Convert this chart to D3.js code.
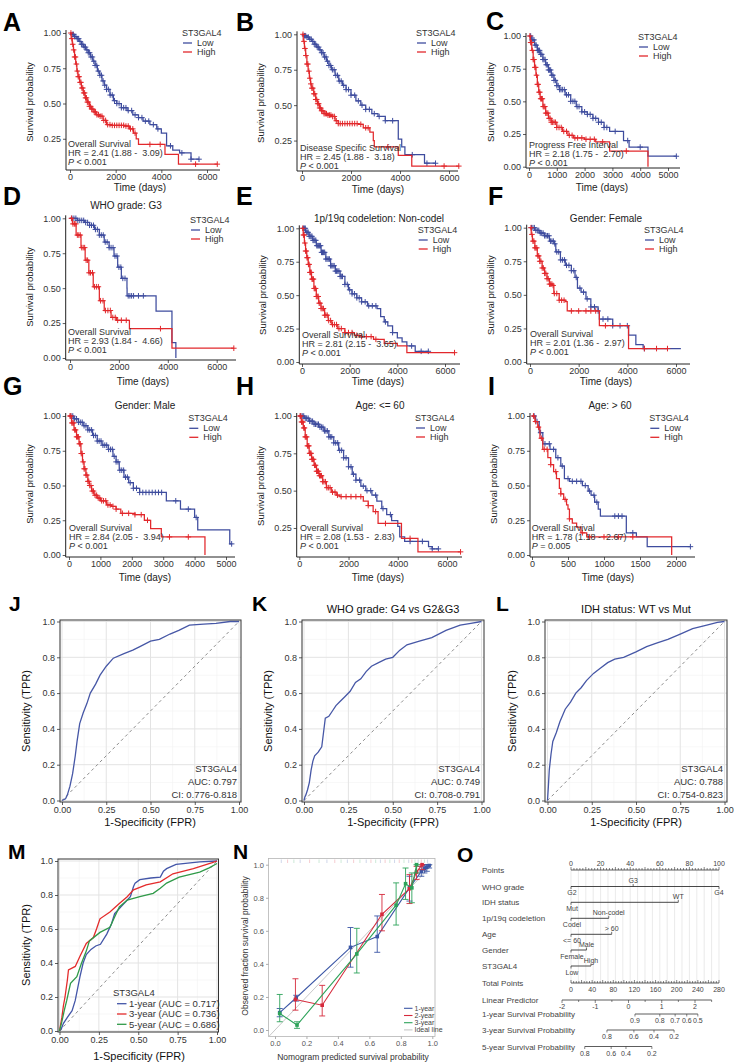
<!DOCTYPE html>
<html><head><meta charset="utf-8">
<script src="https://cdn.jsdelivr.net/npm/d3@7"></script>
<style>body{margin:0;background:#fff}svg{display:block}text{font-family:"Liberation Sans",Arial,sans-serif;white-space:pre}</style>
</head><body><svg id="c" width="738" height="1064"></svg>
<script>
// ---------------- DATA ----------------
const kmA_low=[[0,1],[100,0.99],[200,0.975],[300,0.96],[400,0.94],[500,0.92],[600,0.9],[700,0.88],[800,0.86],[900,0.83],[1000,0.8],[1100,0.77],[1200,0.73],[1300,0.7],[1400,0.66],[1500,0.63],[1600,0.6],[1750,0.56],[1900,0.52],[2050,0.5],[2250,0.47],[2500,0.45],[2750,0.42],[3000,0.4],[3200,0.375],[3500,0.35],[3800,0.32],[4000,0.29],[4230,0.2],[4500,0.17],[4800,0.15],[5300,0.105],[5650,0.105]];
const kmA_high=[[0,1],[50,0.96],[100,0.92],[150,0.88],[200,0.83],[250,0.78],[300,0.73],[350,0.69],[420,0.65],[500,0.61],[580,0.575],[660,0.54],[750,0.51],[850,0.48],[950,0.46],[1050,0.44],[1150,0.42],[1300,0.41],[1450,0.38],[1600,0.35],[1800,0.345],[2400,0.34],[2600,0.32],[2780,0.29],[2900,0.25],[3000,0.21],[4160,0.14],[4750,0.07],[6450,0.07]];
const kmA_lowC=[100,150,200,260,320,380,440,500,560,620,680,740,800,860,920,980,1040,1100,1170,1240,1310,1380,1450,1520,1600,1680,1760,1850,1950,2050,2150,2250,2350,2450,2550,2700,2850,3000,3150,3300,3450,3650,3850,4400,4900,5300,5650];
const kmA_highC=[40,80,120,160,200,240,280,320,360,400,440,480,520,560,600,640,680,720,760,800,850,900,950,1000,1060,1120,1180,1250,1320,1400,1480,1560,1650,1750,1850,1950,2050,2150,2250,2350,2450,2550,2650,2750,2850,3500,3950,5500,6450];
const kmB_low=[[0,1],[100,0.99],[200,0.98],[300,0.965],[400,0.95],[500,0.93],[600,0.91],[700,0.89],[800,0.87],[900,0.84],[1000,0.81],[1100,0.78],[1200,0.75],[1350,0.71],[1500,0.67],[1650,0.64],[1800,0.61],[2000,0.57],[2200,0.53],[2400,0.5],[2600,0.47],[2850,0.44],[3100,0.42],[3400,0.39],[3930,0.26],[4070,0.205],[4200,0.15],[5000,0.09],[5450,0.09]];
const kmB_high=[[0,1],[50,0.95],[100,0.9],[150,0.85],[200,0.79],[250,0.74],[300,0.69],[350,0.65],[400,0.62],[480,0.58],[560,0.54],[640,0.51],[720,0.48],[800,0.46],[900,0.44],[1050,0.43],[1200,0.42],[1350,0.39],[1480,0.37],[2300,0.365],[2500,0.34],[2770,0.31],[2910,0.25],[2950,0.205],[3930,0.146],[4480,0.07],[6400,0.07]];
const kmB_lowC=[100,150,200,260,320,380,440,500,560,620,680,740,800,860,920,980,1040,1100,1170,1240,1310,1380,1450,1520,1600,1700,1800,1900,2000,2150,2300,2450,2600,2750,2950,3150,3400,3700,4500,5100,5450];
const kmB_highC=[40,80,120,160,200,240,280,320,360,400,440,480,520,560,600,640,680,720,760,800,850,900,950,1000,1060,1120,1180,1250,1320,1400,1480,1560,1650,1750,1850,1950,2050,2150,2250,2400,2600,2700,3500,5800,6400];
const kmC_low=[[0,1],[100,0.97],[200,0.93],[300,0.89],[400,0.86],[500,0.82],[600,0.78],[700,0.74],[800,0.7],[900,0.66],[1000,0.62],[1100,0.59],[1300,0.55],[1500,0.5],[1700,0.46],[1900,0.42],[2100,0.4],[2300,0.37],[2500,0.34],[2700,0.3],[2900,0.27],[3200,0.27],[3400,0.2],[3600,0.15],[4280,0.08],[5300,0.08]];
const kmC_high=[[0,1],[50,0.95],[100,0.89],[150,0.82],[200,0.76],[250,0.7],[300,0.63],[350,0.57],[400,0.52],[500,0.46],[600,0.41],[700,0.37],[800,0.34],[1000,0.3],[1200,0.27],[1400,0.24],[1600,0.22],[2000,0.21],[2400,0.19],[2900,0.12],[4280,0]];
const kmC_lowC=[60,100,140,180,220,260,300,340,380,420,460,500,540,580,620,660,700,740,780,820,860,900,950,1000,1050,1100,1150,1200,1270,1350,1420,1500,1580,1650,1730,1800,1900,2000,2100,2200,2300,2400,2500,2600,2700,2800,3100,3550,4000,5300];
const kmC_highC=[30,60,90,120,150,180,210,240,270,300,330,360,390,420,450,480,510,540,570,600,640,680,720,760,800,850,900,950,1000,1080,1160,1250,1350,1450,1550,1650,1750,1900,2050,2200,2350,2650,3500];
const kmD_low=[[0,1],[300,0.985],[600,0.97],[800,0.95],[1000,0.92],[1200,0.88],[1400,0.83],[1600,0.79],[1800,0.73],[1950,0.65],[2100,0.57],[2330,0.5],[2335,0.445],[3520,0.335],[4170,0.11],[4330,0]];
const kmD_high=[[0,1],[100,0.96],[250,0.88],[450,0.79],[620,0.7],[770,0.61],[950,0.51],[1200,0.41],[1400,0.34],[1680,0.29],[1900,0.27],[2430,0.21],[4170,0.07],[6700,0.07]];
const kmD_lowC=[80,160,240,320,400,480,560,640,720,800,880,960,1040,1120,1200,1280,1360,1440,1520,1600,1680,1760,1840,1920,2000,2080,2160,2250,2380,2450,2520,2600,2800,3000];
const kmD_highC=[60,120,180,240,300,360,420,480,540,600,660,720,780,840,920,1000,1080,1160,1250,1350,1450,1550,1650,1750,1850,1950,2100,2300,3700,6700];
const kmE_low=[[0,1],[150,0.97],[300,0.94],[450,0.91],[600,0.87],[800,0.82],[1000,0.77],[1200,0.72],[1400,0.68],[1600,0.64],[1800,0.58],[1950,0.54],[2100,0.51],[2300,0.48],[2500,0.45],[2750,0.42],[3150,0.4],[3300,0.34],[3450,0.3],[3600,0.27],[3800,0.22],[4000,0.18],[4200,0.15],[4400,0.12],[4750,0.08],[5300,0.08]];
const kmE_high=[[0,1],[50,0.95],[100,0.89],[150,0.83],[200,0.78],[260,0.73],[330,0.67],[400,0.62],[500,0.55],[600,0.49],[700,0.44],[800,0.4],[950,0.35],[1100,0.31],[1250,0.28],[1500,0.25],[1800,0.22],[2200,0.2],[2500,0.19],[3000,0.17],[3450,0.14],[4000,0.12],[4400,0.07],[6400,0.07]];
const kmE_lowC=[60,100,140,180,220,260,300,340,380,420,460,500,540,580,620,660,700,740,780,820,860,900,950,1000,1050,1100,1150,1200,1250,1300,1350,1400,1450,1500,1550,1600,1650,1700,1800,1900,2000,2100,2200,2300,2400,2500,2650,2800,2950,3100,3500,3800,4600,5000,5300];
const kmE_highC=[30,60,90,120,150,180,210,240,270,300,330,360,390,420,450,480,510,540,570,600,640,680,720,760,800,850,900,950,1000,1060,1120,1200,1280,1360,1450,1550,1650,1800,1950,2100,2300,2500,2700,2900,3100,6400];
const kmF_low=[[0,1],[200,0.98],[400,0.96],[600,0.94],[800,0.9],[1000,0.88],[1060,0.82],[1250,0.76],[1450,0.72],[1700,0.68],[1850,0.63],[1950,0.55],[2100,0.52],[2300,0.47],[2500,0.41],[2800,0.38],[2850,0.32],[3400,0.27],[4000,0.27],[4050,0.2],[4350,0.13],[4650,0.1],[6200,0.1]];
const kmF_high=[[0,1],[50,0.95],[100,0.9],[200,0.85],[300,0.79],[400,0.75],[500,0.7],[600,0.66],[700,0.62],[800,0.58],[920,0.57],[980,0.51],[1200,0.46],[1450,0.45],[1530,0.38],[2780,0.38],[2850,0.27],[4000,0.27],[4050,0.1],[5650,0.1]];
const kmF_lowC=[60,120,180,240,300,360,420,480,540,600,660,720,780,840,900,960,1020,1100,1180,1260,1340,1420,1500,1600,1700,1800,1900,2050,2200,2350,2500,2650,2800,3000,3200,3400,3700,4000,4700];
const kmF_highC=[40,80,120,160,200,240,280,320,360,400,450,500,550,600,650,700,750,800,850,900,950,1000,1100,1200,1300,1400,1700,2000,2300,2500,2700,3100,4700,5200,5650];
const kmG_low=[[0,1],[150,0.98],[300,0.955],[450,0.93],[600,0.9],[750,0.86],[900,0.82],[1050,0.79],[1250,0.76],[1400,0.71],[1500,0.67],[1600,0.61],[1750,0.56],[1900,0.52],[2050,0.48],[2250,0.45],[3100,0.39],[3550,0.33],[4000,0.27],[4100,0.18],[5120,0.08],[5200,0.08]];
const kmG_high=[[0,1],[80,0.95],[160,0.9],[240,0.85],[320,0.8],[380,0.73],[430,0.67],[480,0.62],[540,0.575],[600,0.53],[650,0.5],[720,0.46],[800,0.43],[900,0.41],[1000,0.39],[1200,0.36],[1350,0.35],[1500,0.33],[1650,0.3],[2100,0.29],[2400,0.25],[2600,0.19],[2940,0.13],[4330,0]];
const kmG_lowC=[60,120,180,240,300,360,420,480,540,600,660,720,780,840,900,960,1020,1080,1140,1200,1260,1320,1380,1440,1500,1560,1620,1680,1740,1800,1860,1950,2050,2150,2250,2350,2450,2550,2650,2750,2850,2950,3400,3800,4050,5180];
const kmG_highC=[30,60,90,120,150,180,210,240,270,300,330,360,390,420,450,480,510,540,570,600,630,660,700,740,780,830,880,930,980,1040,1100,1170,1240,1310,1400,1500,1700,1900,2100,2300,2500,3200,3800];
const kmH_low=[[0,1],[200,0.985],[400,0.965],[600,0.945],[800,0.925],[1000,0.9],[1200,0.86],[1400,0.82],[1600,0.77],[1800,0.72],[2000,0.66],[2150,0.61],[2300,0.57],[2500,0.53],[2700,0.5],[2950,0.47],[3150,0.43],[3350,0.38],[3550,0.34],[3750,0.3],[4000,0.26],[4080,0.19],[4280,0.16],[5250,0.125],[5400,0.11],[5650,0.11]];
const kmH_high=[[0,1],[80,0.96],[160,0.92],[240,0.86],[320,0.8],[400,0.75],[500,0.71],[600,0.67],[700,0.63],[800,0.6],[950,0.56],[1100,0.52],[1300,0.49],[1500,0.47],[1650,0.46],[2600,0.43],[2800,0.4],[3000,0.36],[3200,0.28],[4150,0.18],[4820,0.09],[6550,0.09]];
const kmH_lowC=[60,120,180,240,300,360,420,480,540,600,660,720,780,840,900,960,1020,1080,1140,1200,1260,1320,1400,1480,1560,1640,1720,1800,1900,2000,2100,2200,2300,2450,2600,2750,2900,3100,3400,3700,4500,5000,5400,5650];
const kmH_highC=[30,60,90,120,150,180,210,240,270,300,330,360,390,420,450,480,510,540,580,620,660,700,740,780,820,860,900,950,1000,1060,1120,1180,1250,1350,1450,1550,1700,1900,2100,2300,2500,2800,3100,3500,4500,6550];
const kmI_low=[[0,1],[50,0.96],[100,0.88],[150,0.8],[250,0.76],[330,0.7],[400,0.64],[450,0.55],[520,0.53],[700,0.5],[780,0.46],[820,0.43],[870,0.38],[920,0.33],[950,0.28],[1310,0.16],[1450,0.13],[1600,0.06],[2200,0.06]];
const kmI_high=[[0,1],[40,0.96],[80,0.92],[110,0.84],[150,0.76],[220,0.7],[260,0.65],[300,0.6],[340,0.55],[380,0.48],[400,0.44],[440,0.4],[480,0.36],[500,0.33],[520,0.26],[560,0.23],[620,0.2],[680,0.16],[760,0.13],[1940,0]];
const kmI_lowC=[30,70,120,180,240,300,360,420,500,560,620,680,740,800,860,900,1150,1200,1250,1400,2200];
const kmI_highC=[20,50,90,130,170,210,260,330,400,460,520,700,800,1000,1200,1400];

const kmLetters=['A','B','C','D','E','F','G','H','I'];
const kmTitles=[null,null,null,'WHO grade: G3','1p/19q codeletion: Non-codel','Gender: Female','Gender: Male','Age: <= 60','Age: > 60'];
const kmTests=['Overall Survival','Disease Specific Survival','Progress Free Interval','Overall Survival','Overall Survival','Overall Survival','Overall Survival','Overall Survival','Overall Survival'];
const kmHR=['HR = 2.41 (1.88 -  3.09)','HR = 2.45 (1.88 -  3.18)','HR = 2.18 (1.75 -  2.70)','HR = 2.93 (1.84 -  4.66)','HR = 2.81 (2.15 -  3.65)','HR = 2.01 (1.36 -  2.97)','HR = 2.84 (2.05 -  3.94)','HR = 2.08 (1.53 -  2.83)','HR = 1.78 (1.18 -  2.67)'];
const kmP=['< 0.001','< 0.001','< 0.001','< 0.001','< 0.001','< 0.001','< 0.001','< 0.001','= 0.005'];
const kmXMax=[6000,6000,5000,6000,6000,6000,5000,6000,2000];
const kmXTicks=[[0,2000,4000,6000],[0,2000,4000,6000],[0,1000,2000,3000,4000,5000],[0,2000,4000,6000],[0,2000,4000,6000],[0,2000,4000,6000],[0,1000,2000,3000,4000,5000],[0,2000,4000,6000],[0,500,1000,1500,2000]];
const kmYTicksFull=[0,0.25,0.5,0.75,1];
const kmYTicksCut=[0.25,0.5,0.75,1];
const kmGroups=['Low','High'];
const kmLegendTitle='ST3GAL4';

const rocJ=[[0,0],[0.02,0.01],[0.03,0.03],[0.045,0.08],[0.06,0.15],[0.075,0.25],[0.085,0.33],[0.1,0.43],[0.12,0.49],[0.14,0.54],[0.16,0.6],[0.19,0.65],[0.215,0.7],[0.25,0.75],[0.29,0.795],[0.35,0.82],[0.4,0.84],[0.44,0.86],[0.5,0.89],[0.55,0.9],[0.61,0.93],[0.66,0.95],[0.72,0.98],[0.8,0.985],[0.87,0.99],[0.95,1],[1,1]];
const rocK=[[0,0],[0.005,0.02],[0.01,0.03],[0.02,0.06],[0.03,0.1],[0.04,0.17],[0.05,0.22],[0.06,0.25],[0.08,0.27],[0.1,0.3],[0.11,0.38],[0.12,0.46],[0.14,0.47],[0.16,0.5],[0.18,0.53],[0.2,0.55],[0.23,0.58],[0.26,0.61],[0.29,0.66],[0.32,0.68],[0.35,0.72],[0.38,0.75],[0.42,0.77],[0.46,0.79],[0.5,0.8],[0.54,0.84],[0.58,0.87],[0.65,0.89],[0.72,0.91],[0.8,0.95],[0.88,0.98],[0.94,0.99],[1,1]];
const rocL=[[0,0],[0.005,0.08],[0.01,0.17],[0.02,0.26],[0.03,0.33],[0.05,0.38],[0.07,0.44],[0.1,0.51],[0.13,0.55],[0.16,0.6],[0.19,0.63],[0.22,0.67],[0.26,0.71],[0.3,0.74],[0.34,0.77],[0.38,0.79],[0.43,0.8],[0.5,0.83],[0.56,0.86],[0.62,0.88],[0.68,0.9],[0.75,0.93],[0.82,0.96],[0.9,0.98],[0.96,0.995],[1,1]];
const rocTitles=[null,'WHO grade: G4 vs G2&G3','IDH status: WT vs Mut'];
const rocAUC=['AUC: 0.797','AUC: 0.749','AUC: 0.788'];
const rocCI=['CI: 0.776-0.818','CI: 0.708-0.791','CI: 0.754-0.823'];
const rocXTicks=[0,0.25,0.5,0.75,1];
const rocYTicks=[0,0.2,0.4,0.6,0.8,1];

const rocM1=[[0,0],[0.01,0.01],[0.025,0.045],[0.05,0.08],[0.08,0.12],[0.1,0.18],[0.13,0.32],[0.15,0.4],[0.17,0.45],[0.2,0.48],[0.23,0.5],[0.26,0.51],[0.3,0.57],[0.33,0.63],[0.35,0.69],[0.39,0.73],[0.42,0.76],[0.45,0.79],[0.47,0.85],[0.48,0.87],[0.51,0.89],[0.58,0.9],[0.64,0.905],[0.66,0.94],[0.68,0.955],[0.74,0.98],[0.89,0.995],[1,1]];
const rocM3=[[0,0],[0.015,0.08],[0.025,0.15],[0.035,0.2],[0.05,0.3],[0.057,0.36],[0.1,0.38],[0.13,0.44],[0.17,0.515],[0.215,0.55],[0.235,0.6],[0.257,0.66],[0.32,0.7],[0.38,0.75],[0.43,0.79],[0.47,0.83],[0.55,0.86],[0.64,0.877],[0.72,0.925],[0.85,0.955],[0.97,0.99],[1,1]];
const rocM5=[[0,0],[0.015,0.055],[0.03,0.12],[0.046,0.18],[0.07,0.28],[0.11,0.32],[0.14,0.4],[0.17,0.47],[0.19,0.53],[0.257,0.58],[0.32,0.61],[0.35,0.67],[0.38,0.73],[0.43,0.77],[0.51,0.79],[0.595,0.81],[0.64,0.84],[0.68,0.87],[0.76,0.905],[0.89,0.935],[0.95,0.96],[1,0.985]];
const rocMLabels=['1-year (AUC = 0.717)','3-year (AUC = 0.736)','5-year (AUC = 0.686)'];

const cal1_pred=[0.03,0.135,0.48,0.65,0.855,0.93,0.95,0.965,0.98];
const cal1_obs=[0.105,0.195,0.5,0.565,0.86,0.96,0.975,0.985,0.995];
const cal1_lo=[0.08,0.175,0.38,0.47,0.78,0.93,0.95,0.96,0.98];
const cal1_hi=[0.13,0.21,0.62,0.69,0.93,0.99,1,1,1];
const cal2_pred=[0.13,0.3,0.68,0.855,0.9,0.935];
const cal2_obs=[0.185,0.15,0.7,0.855,0.955,1];
const cal2_lo=[0.12,0.085,0.6,0.765,0.91,0.97];
const cal2_hi=[0.31,0.27,0.82,0.94,0.99,1];
const cal3_pred=[0.03,0.14,0.52,0.77,0.83,0.87,0.9];
const cal3_obs=[0.1,0.03,0.46,0.755,0.885,0.86,1];
const cal3_lo=[0.05,0.01,0.345,0.635,0.79,0.77,0.95];
const cal3_hi=[0.215,0.05,0.615,0.89,0.98,0.95,1];
const calRug=[0.04,0.08,0.12,0.16,0.22,0.28,0.33,0.38,0.42,0.46,0.5,0.54,0.58,0.61,0.64,0.67,0.7,0.73,0.76,0.79,0.82,0.85,0.87,0.89,0.91,0.93,0.95,0.97];
const calLabels=['1-year','2-year','3-year','Ideal line'];
const calTicks=[0,0.2,0.4,0.6,0.8,1];

const nomoRows=['Points','WHO grade','IDH status','1p/19q codeletion','Age','Gender','ST3GAL4','Total Points','Linear Predictor','1-year Survival Probability','3-year Survival Probability','5-year Survival Probability'];
const nomoVars=[
 {levels:['G2','G3','G4'],pts:[0,42,100],pos:['below','above','below']},
 {levels:['Mut','WT'],pts:[0,72.5],pos:['below','above']},
 {levels:['Codel','Non-codel'],pts:[0,25.5],pos:['below','above']},
 {levels:['<= 60','> 60'],pts:[0,27.5],pos:['below','above']},
 {levels:['Female','Male'],pts:[0,10.5],pos:['below','above']},
 {levels:['Low','High'],pts:[0,13.5],pos:['below','above']}];
const nomoPointTicks=[0,20,40,60,80,100];
const nomoTotalTicks=[0,40,80,120,160,200,240,280];
const nomoLPTicks=[-2,-1,0,1,2];
const nomoLPRange=[-2,2.5];
const nomoSurv1=[[0.9,121],[0.8,168],[0.7,197],[0.6,219],[0.5,240]];
const nomoSurv3=[[0.8,68],[0.6,119],[0.4,157],[0.2,195]];
const nomoSurv5=[[0.8,26],[0.6,76],[0.4,104],[0.2,153]];

// ---------------- LAYOUT / STYLE ----------------
const BLUE='#3E4C9E', RED='#E2282C';
const svg=d3.select('#c');
svg.append('rect').attr('width',738).attr('height',1064).attr('fill','#fff');

function T(g,x,y,s,o={}){
  const t=g.append('text').attr('x',x).attr('y',y).text(s)
   .attr('font-size',o.size||9).attr('fill',o.fill||'#1a1a1a').attr('text-anchor',o.anchor||'start');
  if(o.weight)t.attr('font-weight',o.weight);
  if(o.rot)t.attr('transform',`rotate(-90,${x},${y})`);
  return t;
}
function letter(s,x,y,size){T(svg,x,y,s,{size:size,weight:'bold',fill:'#000'});}

const kmLayout=[
 {ax:66,x0:70,x1:207,y1:33,y0:174,ay:170,xe:220,lx:182,ly:33,tx:68,ty:144,xl:[140,191],yl:[33,102],lt:[3,31],cut:true},
 {ax:297,x0:302,x1:449,y1:34.3,y0:176,ay:171,xe:458,lx:416,ly:33,tx:300,ty:148,xl:[378,192.5],yl:[264,103],lt:[236,31],cut:true},
 {ax:526,x0:529,x1:668,y1:36,y0:166.7,ay:168,xe:680,lx:638,ly:37,tx:529,ty:145,xl:[602,190.5],yl:[494,102],lt:[486,30],cut:false},
 {ax:65.7,x0:70,x1:216.7,y1:218.3,y0:358,ay:360,xe:236,lx:190,ly:220,tx:68,ty:331.7,xl:[143,385],yl:[33,287],lt:[3,205],tt:[126,205],cut:false},
 {ax:299.3,x0:302,x1:445,y1:228.3,y0:362,ay:364,xe:460,lx:417.7,ly:230,tx:302,ty:335,xl:[378,385],yl:[266,295],lt:[236,205],tt:[379,218.3],cut:false},
 {ax:526.7,x0:530,x1:676,y1:227.7,y0:362,ay:364,xe:690,lx:644,ly:230,tx:530,ty:334.3,xl:[606,385],yl:[494,295],lt:[488,205],tt:[606,218.3],cut:false},
 {ax:65.7,x0:69,x1:226,y1:416,y0:555,ay:557,xe:235,lx:188.3,ly:418.3,tx:69,ty:527.7,xl:[145,581],yl:[33,484],lt:[3,395],tt:[145,405.7],cut:false},
 {ax:296.7,x0:299.3,x1:447,y1:416,y0:565.3,ay:557,xe:462,lx:415,ly:418,tx:300,ty:527.7,xl:[378,581],yl:[264,486],lt:[236,395],tt:[380,405],cut:true},
 {ax:530,x0:532,x1:676,y1:416,y0:555,ay:557,xe:695,lx:649.3,ly:418.3,tx:531.7,ty:527.7,xl:[608,581],yl:[497,484],lt:[488,395],tt:[610,405],cut:false}];
const kmData=[[kmA_low,kmA_high,kmA_lowC,kmA_highC],[kmB_low,kmB_high,kmB_lowC,kmB_highC],[kmC_low,kmC_high,kmC_lowC,kmC_highC],[kmD_low,kmD_high,kmD_lowC,kmD_highC],[kmE_low,kmE_high,kmE_lowC,kmE_highC],[kmF_low,kmF_high,kmF_lowC,kmF_highC],[kmG_low,kmG_high,kmG_lowC,kmG_highC],[kmH_low,kmH_high,kmH_lowC,kmH_highC],[kmI_low,kmI_high,kmI_lowC,kmI_highC]];

function survAt(c,t){let s=1;for(const p of c){if(p[0]<=t)s=p[1];else break;}return s;}
function styleAxis(ga,size){
  ga.select('.domain').remove();
  ga.selectAll('line').attr('stroke','#333').attr('stroke-width',0.8);
  ga.selectAll('text').attr('font-size',size).attr('fill','#333').attr('font-family','"Liberation Sans",Arial,sans-serif');
}

kmLayout.forEach((P,i)=>{
  const g=svg.append('g');
  const [low,high,lowC,highC]=kmData[i];
  const x=d3.scaleLinear().domain([0,kmXMax[i]]).range([P.x0,P.x1]);
  const y=d3.scaleLinear().domain([0,1]).range([P.y0,P.y1]);
  const ya=d3.axisLeft(y).tickValues(P.cut?kmYTicksCut:kmYTicksFull).tickFormat(d3.format('.2f')).tickSize(3).tickPadding(2);
  styleAxis(g.append('g').attr('transform',`translate(${P.ax},0)`).call(ya),9);
  g.append('line').attr('x1',P.ax).attr('x2',P.ax).attr('y1',y(1)-3).attr('y2',P.ay).attr('stroke','#222').attr('stroke-width',1);
  const xa=d3.axisBottom(x).tickValues(kmXTicks[i]).tickFormat(d3.format('d')).tickSize(3).tickPadding(1);
  styleAxis(g.append('g').attr('transform',`translate(0,${P.ay})`).call(xa),9);
  g.append('line').attr('x1',P.ax).attr('x2',P.xe).attr('y1',P.ay).attr('y2',P.ay).attr('stroke','#222').attr('stroke-width',1);
  const line=d3.line().curve(d3.curveStepAfter).x(d=>x(d[0])).y(d=>y(d[1]));
  [[low,BLUE,lowC],[high,RED,highC]].forEach(([c,col,cens])=>{
    g.append('path').attr('d',line(c)).attr('fill','none').attr('stroke',col).attr('stroke-width',1.25);
    cens.forEach(t=>{const cx=x(t),cy=y(survAt(c,t));
      g.append('path').attr('d',`M${cx-2.8},${cy}h5.6M${cx},${cy-2.8}v5.6`).attr('stroke',col).attr('stroke-width',1);});
  });
  T(g,P.lx,P.ly+3,kmLegendTitle,{size:9,fill:'#333'});
  [[BLUE,kmGroups[0]],[RED,kmGroups[1]]].forEach(([col,lab],k)=>{
    const yy=P.ly+10+k*9;
    g.append('line').attr('x1',P.lx+1).attr('x2',P.lx+10).attr('y1',yy).attr('y2',yy).attr('stroke',col).attr('stroke-width',1.3);
    T(g,P.lx+15,yy+3,lab,{size:9,fill:'#333'});
  });
  T(g,P.tx,P.ty+3,kmTests[i],{size:9,fill:'#333'});
  T(g,P.tx,P.ty+12,kmHR[i],{size:9,fill:'#333'});
  const pt=T(g,P.tx,P.ty+21,'',{size:9,fill:'#333'});
  pt.append('tspan').attr('font-style','italic').text('P');
  pt.append('tspan').text(' '+kmP[i]);
  T(g,P.xl[0],P.xl[1],'Time (days)',{size:10,anchor:'middle',fill:'#222'});
  T(g,P.yl[0],P.yl[1],'Survival probability',{size:9.5,anchor:'middle',rot:true,fill:'#222'});
  if(kmTitles[i])T(g,P.tt[0],P.tt[1]+3.5,kmTitles[i],{size:10,anchor:'middle',fill:'#222'});
  letter(kmLetters[i],P.lt[0],P.lt[1],25);
});

function rocFrame(B,xt,yt,xf,yf){
  const g=svg.append('g');
  const x=d3.scaleLinear().domain([0,1]).range([B.x0,B.x1]);
  const y=d3.scaleLinear().domain([0,1]).range([B.y0,B.y1]);
  g.append('rect').attr('x',B.l).attr('y',B.t).attr('width',B.r-B.l).attr('height',B.b-B.t).attr('fill','#fff');
  const mx=d3.pairs(xt).map(p=>(p[0]+p[1])/2), my=d3.pairs(yt).map(p=>(p[0]+p[1])/2);
  mx.forEach(v=>g.append('line').attr('x1',x(v)).attr('x2',x(v)).attr('y1',B.t).attr('y2',B.b).attr('stroke','#F2F2F2').attr('stroke-width',0.6));
  my.forEach(v=>g.append('line').attr('y1',y(v)).attr('y2',y(v)).attr('x1',B.l).attr('x2',B.r).attr('stroke','#F2F2F2').attr('stroke-width',0.6));
  xt.forEach(v=>g.append('line').attr('x1',x(v)).attr('x2',x(v)).attr('y1',B.t).attr('y2',B.b).attr('stroke','#E3E3E3').attr('stroke-width',1));
  yt.forEach(v=>g.append('line').attr('y1',y(v)).attr('y2',y(v)).attr('x1',B.l).attr('x2',B.r).attr('stroke','#E3E3E3').attr('stroke-width',1));
  g.append('line').attr('x1',x(0)).attr('y1',y(0)).attr('x2',x(1)).attr('y2',y(1)).attr('stroke','#8C8C8C').attr('stroke-width',1).attr('stroke-dasharray','3,3');
  const xa=d3.axisBottom(x).tickValues(xt).tickFormat(d3.format(xf)).tickSize(3).tickPadding(2);
  styleAxis(g.append('g').attr('transform',`translate(0,${B.b})`).call(xa),9);
  const ya=d3.axisLeft(y).tickValues(yt).tickFormat(d3.format(yf)).tickSize(3).tickPadding(2);
  styleAxis(g.append('g').attr('transform',`translate(${B.l},0)`).call(ya),9);
  return {g,x,y};
}
const rocLayout=[
 {l:60,r:241,t:620,b:802,x0:62,x1:239,y0:800.5,y1:621.5,lt:[9,611],yl:[30,711],xl:[150,826],tt:null},
 {l:302,r:484,t:620,b:802,x0:304,x1:481.5,y0:800.5,y1:621.5,lt:[252,611],yl:[272,711],xl:[393,826],tt:[393,613]},
 {l:545,r:727,t:620,b:802,x0:547.5,x1:724.5,y0:800.5,y1:621.5,lt:[496,611],yl:[516,711],xl:[636,826],tt:[636,613]}];
const rocCurves=[rocJ,rocK,rocL];
const rocLine=(x,y)=>d3.line().x(d=>x(d[0])).y(d=>y(d[1]));
rocLayout.forEach((B,i)=>{
  const {g,x,y}=rocFrame(B,rocXTicks,rocYTicks,'.2f','.1f');
  g.append('path').attr('d',rocLine(x,y)(rocCurves[i])).attr('fill','none').attr('stroke','#4657A6').attr('stroke-width',1.3);
  g.append('rect').attr('x',B.l).attr('y',B.t).attr('width',B.r-B.l).attr('height',B.b-B.t).attr('fill','none').attr('stroke','#333').attr('stroke-width',1);
  T(g,B.r-4,771.5,kmLegendTitle,{size:9.5,anchor:'end',fill:'#333'});
  T(g,B.r-4,784.5,rocAUC[i],{size:9.5,anchor:'end',fill:'#333'});
  T(g,B.r-4,798,rocCI[i],{size:9.5,anchor:'end',fill:'#333'});
  T(g,B.xl[0],B.xl[1],'1-Specificity (FPR)',{size:11,anchor:'middle',fill:'#111'});
  T(g,B.yl[0],B.yl[1],'Sensitivity (TPR)',{size:11,anchor:'middle',rot:true,fill:'#111'});
  if(rocTitles[i])T(g,B.tt[0],B.tt[1],rocTitles[i],{size:11,anchor:'middle',fill:'#111'});
  letter(['J','K','L'][i],B.lt[0],B.lt[1],21);
});

{
  const B={l:58,r:218.5,t:859,b:1032,x0:59.5,x1:217,y0:1031,y1:861};
  const {g,x,y}=rocFrame(B,rocXTicks,rocYTicks,'.2f','.1f');
  const cols=['#4356A8','#E42B2B','#2F9A48'];
  [rocM1,rocM3,rocM5].forEach((c,k)=>g.append('path').attr('d',rocLine(x,y)(c)).attr('fill','none').attr('stroke',cols[k]).attr('stroke-width',1.3));
  g.append('rect').attr('x',B.l).attr('y',B.t).attr('width',B.r-B.l).attr('height',B.b-B.t).attr('fill','none').attr('stroke','#333').attr('stroke-width',1);
  T(g,113,996,kmLegendTitle,{size:9.5,fill:'#333'});
  rocMLabels.forEach((s,k)=>{const yy=1003.7+k*10.3;
    g.append('line').attr('x1',117).attr('x2',126.5).attr('y1',yy).attr('y2',yy).attr('stroke',cols[k]).attr('stroke-width',1.3);
    T(g,129,yy+3.3,s,{size:9.5,fill:'#333'});});
  T(g,139,1059.5,'1-Specificity (FPR)',{size:11,anchor:'middle',fill:'#111'});
  T(g,30,945,'Sensitivity (TPR)',{size:11,anchor:'middle',rot:true,fill:'#111'});
  letter('M',8,859,21);
}

{
  const g=svg.append('g');
  const B={l:268.5,r:435,t:858.5,b:1036.5};
  const x=d3.scaleLinear().domain([0,1]).range([275,432.3]);
  const y=d3.scaleLinear().domain([0,1]).range([1030,864.7]);
  g.append('rect').attr('x',B.l).attr('y',B.t).attr('width',B.r-B.l).attr('height',B.b-B.t).attr('fill','#fff').attr('stroke','#B5B5B5').attr('stroke-width',0.8);
  g.append('line').attr('x1',x(-0.04)).attr('y1',y(-0.04)).attr('x2',x(1.0)).attr('y2',y(1.0)).attr('stroke','#C8C8C8').attr('stroke-width',1);
  const cols=['#3C57A6','#D62A3C','#2DA35A'];
  calRug.forEach((v,j)=>g.append('line').attr('x1',x(v)).attr('x2',x(v)).attr('y1',859.5).attr('y2',863).attr('stroke',cols[j%3]).attr('stroke-opacity',0.3).attr('stroke-width',0.8));
  const sets=[[cal1_pred,cal1_obs,cal1_lo,cal1_hi],[cal2_pred,cal2_obs,cal2_lo,cal2_hi],[cal3_pred,cal3_obs,cal3_lo,cal3_hi]];
  sets.forEach(([p,o,lo,hi],k)=>{
    const pts=p.map((v,j)=>[v,o[j]]);
    g.append('path').attr('d',d3.line().x(d=>x(d[0])).y(d=>y(d[1]))(pts)).attr('fill','none').attr('stroke',cols[k]).attr('stroke-width',1.1);
    p.forEach((v,j)=>{const cx=x(v);
      g.append('path').attr('d',`M${cx},${y(lo[j])}V${y(hi[j])}M${cx-3},${y(lo[j])}h6M${cx-3},${y(hi[j])}h6`).attr('stroke',cols[k]).attr('stroke-width',0.9).attr('fill','none');
      g.append('rect').attr('x',cx-1.8).attr('y',y(o[j])-1.8).attr('width',3.6).attr('height',3.6).attr('fill',cols[k]);});
  });
  const xa=d3.axisBottom(x).tickValues(calTicks).tickFormat(d3.format('.1f')).tickSize(2.5).tickPadding(2);
  const gx=g.append('g').attr('transform',`translate(0,${B.b})`).call(xa);styleAxis(gx,7.5);
  gx.selectAll('line').attr('stroke','#999');gx.selectAll('text').attr('fill','#555');
  const ya=d3.axisLeft(y).tickValues(calTicks).tickFormat(d3.format('.1f')).tickSize(2.5).tickPadding(2);
  const gy=g.append('g').attr('transform',`translate(${B.l},0)`).call(ya);styleAxis(gy,7.5);
  gy.selectAll('line').attr('stroke','#999');gy.selectAll('text').attr('fill','#555');
  const lc=[cols[0],cols[1],cols[2],'#C8C8C8'];
  calLabels.forEach((s,k)=>{const yy=1008.3+k*7.2;
    g.append('line').attr('x1',404).attr('x2',412.5).attr('y1',yy).attr('y2',yy).attr('stroke',lc[k]).attr('stroke-width',1.1);
    T(g,414.5,yy+2.4,s,{size:7,fill:'#444'});});
  T(g,353,1060,'Nomogram predicted survival probability',{size:8.5,anchor:'middle',fill:'#333'});
  T(g,248,946,'Observed fraction survival probability',{size:8.5,anchor:'middle',rot:true,fill:'#333'});
  letter('N',233,859,21);
}

{
  const g=svg.append('g');
  const rowY=[870,886.5,902.3,918.3,934.3,950,966,983,1000,1014,1030,1046.5];
  const gray='#444';
  nomoRows.forEach((s,k)=>T(g,482,rowY[k]+3,s,{size:8,fill:gray}));
  const px=d3.scaleLinear().domain([0,100]).range([571,719]);
  const tx=d3.scaleLinear().domain([0,280]).range([571,719]);
  d3.range(0,101,5).forEach(v=>g.append('line').attr('x1',px(v)).attr('x2',px(v)).attr('y1',rowY[0]).attr('y2',rowY[7]).attr('stroke','#DCDCDC').attr('stroke-width',0.6));
  g.append('line').attr('x1',px(0)).attr('x2',px(100)).attr('y1',rowY[0]).attr('y2',rowY[0]).attr('stroke','#333').attr('stroke-width',0.8);
  d3.range(0,101,2).forEach(v=>g.append('line').attr('x1',px(v)).attr('x2',px(v)).attr('y1',rowY[0]).attr('y2',rowY[0]-(v%10===0?3:2)).attr('stroke','#333').attr('stroke-width',0.6));
  nomoPointTicks.forEach(v=>T(g,px(v),rowY[0]-4,String(v),{size:7,anchor:'middle',fill:gray}));
  nomoVars.forEach((vr,k)=>{
    const yy=rowY[k+1];
    g.append('line').attr('x1',px(0)).attr('x2',px(d3.max(vr.pts))).attr('y1',yy).attr('y2',yy).attr('stroke','#333').attr('stroke-width',0.9);
    vr.pts.forEach((p,j)=>{
      const up=vr.pos[j]==='above';
      g.append('line').attr('x1',px(p)).attr('x2',px(p)).attr('y1',yy).attr('y2',up?yy-2.5:yy+2.5).attr('stroke','#333').attr('stroke-width',0.7);
      T(g,px(p)+(p===0?1:0),up?yy-3.5:yy+8.5,vr.levels[j],{size:7,anchor:'middle',fill:gray});
    });
  });
  const ty=rowY[7];
  g.append('line').attr('x1',tx(0)).attr('x2',tx(280)).attr('y1',ty).attr('y2',ty).attr('stroke','#333').attr('stroke-width',0.8);
  d3.range(0,281,5).forEach(v=>g.append('line').attr('x1',tx(v)).attr('x2',tx(v)).attr('y1',ty).attr('y2',ty-(v%20===0?3:2)).attr('stroke','#333').attr('stroke-width',0.6));
  nomoTotalTicks.forEach(v=>T(g,tx(v),ty+8.5,String(v),{size:7,anchor:'middle',fill:gray}));
  const lp=d3.scaleLinear().domain([-2,2]).range([562,695]);
  const ly=rowY[8];
  g.append('line').attr('x1',lp(nomoLPRange[0])).attr('x2',lp(nomoLPRange[1])).attr('y1',ly).attr('y2',ly).attr('stroke','#333').attr('stroke-width',0.8);
  d3.range(nomoLPRange[0],nomoLPRange[1]+0.01,0.5).forEach(v=>g.append('line').attr('x1',lp(v)).attr('x2',lp(v)).attr('y1',ly).attr('y2',ly+(Number.isInteger(v)?3:2)).attr('stroke','#333').attr('stroke-width',0.6));
  nomoLPTicks.forEach(v=>T(g,lp(v),ly+9,String(v),{size:7,anchor:'middle',fill:gray}));
  [nomoSurv1,nomoSurv3,nomoSurv5].forEach((arr,k)=>{
    const yy=rowY[9+k];
    const xs=arr.map(d=>tx(d[1]));
    g.append('line').attr('x1',d3.min(xs)).attr('x2',d3.max(xs)).attr('y1',yy).attr('y2',yy).attr('stroke','#333').attr('stroke-width',0.8);
    arr.forEach(d=>{g.append('line').attr('x1',tx(d[1])).attr('x2',tx(d[1])).attr('y1',yy).attr('y2',yy+2.5).attr('stroke','#333').attr('stroke-width',0.6);
      T(g,tx(d[1]),yy+9,d3.format('.1f')(d[0]),{size:7,anchor:'middle',fill:gray});});
  });
  letter('O',457,862,21);
}
</script></body></html>
